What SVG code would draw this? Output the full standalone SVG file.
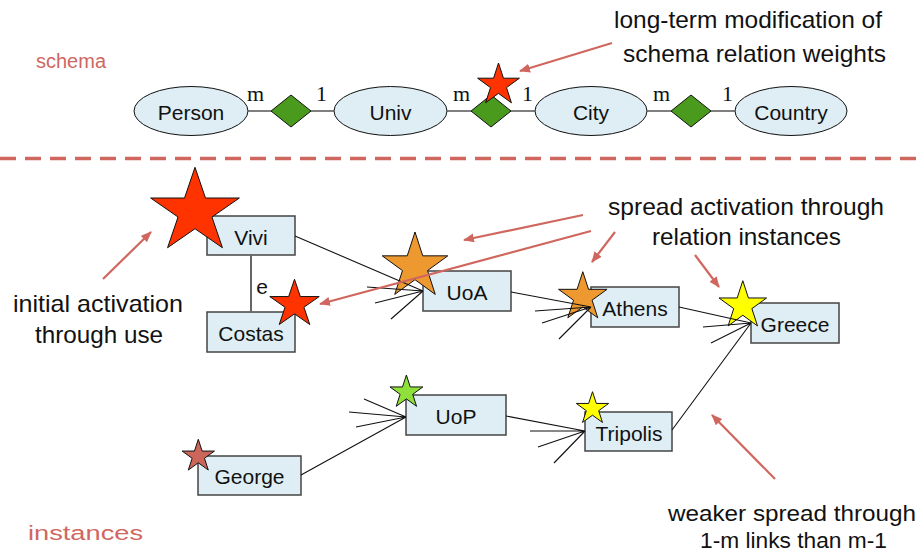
<svg xmlns="http://www.w3.org/2000/svg" width="922" height="553" viewBox="0 0 922 553">
  <style>
    .ent { fill: #deeef4; stroke: #111; stroke-width: 1; }
    .rel { fill: #4a9a1e; stroke: #111; stroke-width: 1; }
    .box { fill: #deeef4; stroke: #444; stroke-width: 1.5; }
    .lbl { font-family: "Liberation Sans", Arial, sans-serif; font-size: 21px; fill: #111; text-anchor: middle; }
    .card { font-family: "Liberation Serif", "Times New Roman", serif; font-size: 22px; fill: #111; }
    .note { font-family: "Liberation Sans", Arial, sans-serif; font-size: 24px; fill: #111; }
    .small { font-size: 22px; }
    .sec { font-family: "Liberation Sans", Arial, sans-serif; font-size: 20px; fill: #d0675f; }
    .star { stroke: #111; stroke-width: 1; }
    .link { stroke: #555; stroke-width: 1.5; fill: none; }
    .edge { stroke: #111; stroke-width: 1.1; fill: none; }
    .ann { stroke: #d0675f; stroke-width: 2.2; fill: none; marker-end: url(#ah); }
  </style>
  <defs>
    <marker id="ah" markerUnits="userSpaceOnUse" markerWidth="12" markerHeight="10" refX="10" refY="4.5" orient="auto">
      <path d="M0,0 L11,4.5 L0,9 z" fill="#d0675f"/>
    </marker>
  </defs>

  <rect width="922" height="553" fill="#fff"/>

  <!-- section labels and divider -->
  <text class="sec" x="36" y="68">schema</text>
  <text class="sec" x="28" y="540" font-size="23" textLength="115" lengthAdjust="spacingAndGlyphs">instances</text>
  <line x1="0" y1="158.5" x2="922" y2="158.5" stroke="#d0675f" stroke-width="3.5" stroke-dasharray="16 9"/>

  <!-- schema level -->
  <g id="person"><ellipse class="ent" cx="191" cy="111" rx="57" ry="24.5"/><text class="lbl" x="191" y="120">Person</text></g>
  <g id="univ"><ellipse class="ent" cx="390.5" cy="111" rx="56.5" ry="24.5"/><text class="lbl" x="390.5" y="120">Univ</text></g>
  <g id="city"><ellipse class="ent" cx="591" cy="111" rx="56" ry="24.5"/><text class="lbl" x="591" y="120">City</text></g>
  <g id="country"><ellipse class="ent" cx="791" cy="111" rx="56" ry="24.5"/><text class="lbl" x="791" y="120">Country</text></g>
  <g id="studies"><polygon class="rel" points="291,95 311,111 291,127 271,111"/></g>
  <g id="located"><polygon class="rel" points="491,95 511,111 491,127 471,111"/>
    <polygon class="star" fill="#ff3300" points="498.5,63 503.44,78.2 519.42,78.2 506.49,87.6 511.43,102.8 498.5,93.4 485.57,102.8 490.51,87.6 477.58,78.2 493.56,78.2"/></g>
  <g id="in-country"><polygon class="rel" points="691,95 711,111 691,127 671,111"/></g>

  <!-- instance level -->
  <g id="vivi"><rect class="box" x="207" y="216" width="88" height="39"/>
    <polygon class="star" fill="#ff3300" points="195,167.3 205.48,198.01 239.39,198.01 211.96,217 222.43,247.71 195,228.73 167.57,247.71 178.04,217 150.61,198.01 184.52,198.01"/>
    <text class="lbl" x="251" y="245">Vivi</text></g>
  <g id="costas"><rect class="box" x="207" y="312" width="88" height="40"/>
    <polygon class="star" fill="#ff3300" points="294.5,279.3 300.34,296.57 319.23,296.57 303.95,307.25 309.78,324.53 294.5,313.85 279.22,324.53 285.05,307.25 269.77,296.57 288.66,296.57"/>
    <text class="lbl" x="251" y="341">Costas</text></g>
  <g id="uoa"><rect class="box" x="423" y="271" width="88" height="40"/>
    <polygon class="star" fill="#ee992f" points="415,232 422.75,255.84 447.81,255.84 427.53,270.57 435.28,294.41 415,279.68 394.72,294.41 402.47,270.57 382.19,255.84 407.25,255.84"/>
    <text class="lbl" x="467" y="300">UoA</text></g>
  <g id="athens"><rect class="box" x="591" y="287" width="88" height="40"/>
    <polygon class="star" fill="#ee992f" points="582.8,271.7 588.52,289.32 607.05,289.32 592.06,300.21 597.79,317.83 582.8,306.94 567.81,317.83 573.54,300.21 558.55,289.32 577.08,289.32"/>
    <text class="lbl" x="635" y="316">Athens</text></g>
  <g id="greece"><rect class="box" x="751" y="303" width="88" height="40"/>
    <polygon class="star" fill="#ffff00" points="742.8,280.7 748.41,297.97 766.58,297.97 751.88,308.65 757.5,325.93 742.8,315.25 728.1,325.93 733.72,308.65 719.02,297.97 737.19,297.97"/>
    <text class="lbl" x="795" y="332">Greece</text></g>
  <g id="uop"><rect class="box" x="406" y="395" width="100" height="40"/>
    <polygon class="star" fill="#8fe03a" points="406.4,375 410.28,386.95 422.85,386.95 412.69,394.34 416.57,406.3 406.4,398.91 396.23,406.3 400.11,394.34 389.95,386.95 402.52,386.95"/>
    <text class="lbl" x="456" y="424">UoP</text></g>
  <g id="tripolis"><rect class="box" x="585" y="412" width="87" height="39"/>
    <polygon class="star" fill="#ffff00" points="592.5,391.7 596.32,403.45 608.67,403.45 598.68,410.71 602.49,422.45 592.5,415.19 582.51,422.45 586.32,410.71 576.33,403.45 588.68,403.45"/>
    <text class="lbl" x="629" y="441">Tripolis</text></g>
  <g id="george"><rect class="box" x="198" y="456" width="103" height="39"/>
    <polygon class="star" fill="#cc665a" points="198.3,439.3 202.12,451.05 214.47,451.05 204.48,458.31 208.29,470.05 198.3,462.79 188.31,470.05 192.12,458.31 182.13,451.05 194.48,451.05"/>
    <text class="lbl" x="249.5" y="484">George</text></g>

  <!-- connectors -->
  <g id="connectors">
    <!-- schema relationship lines -->
    <line class="link" x1="248" y1="111" x2="271" y2="111"/>
    <line class="link" x1="311" y1="111" x2="334" y2="111"/>
    <line class="link" x1="447" y1="111" x2="471" y2="111"/>
    <line class="link" x1="511" y1="111" x2="535" y2="111"/>
    <line class="link" x1="647" y1="111" x2="671" y2="111"/>
    <line class="link" x1="711" y1="111" x2="735" y2="111"/>
    <text class="card" x="247" y="101">m</text>
    <text class="card" x="316" y="101">1</text>
    <text class="card" x="453" y="101">m</text>
    <text class="card" x="522" y="101">1</text>
    <text class="card" x="653" y="101">m</text>
    <text class="card" x="722" y="101">1</text>

    <!-- Vivi - Costas equivalence -->
    <line x1="251" y1="255" x2="251" y2="312" stroke="#666" stroke-width="2"/>
    <text class="lbl" x="262" y="294">e</text>

    <!-- instance links, each target with its fan of incoming links -->
    <path class="edge" d="M295,236 L423,291 M367,287 L423,291 M375,303 L423,291 M391,319 L423,291"/>
    <path class="edge" d="M511,292 L591,307 M535,311 L591,307 M542,323 L591,307 M559,339 L591,307"/>
    <path class="edge" d="M679,307 L751,323 M703,327 L751,323 M711,343 L751,323 M672,430 L751,323"/>
    <path class="edge" d="M301,475 L406,417 M364,399 L406,417 M349,412 L406,417 M356,427 L406,417"/>
    <path class="edge" d="M506,416 L585,431 M530,431 L585,431 M538,447 L585,431 M554,463 L585,431"/>
  </g>

  <!-- annotations -->
  <g id="notes">
    <text class="note" x="614" y="28" textLength="268" lengthAdjust="spacingAndGlyphs">long-term modification of</text>
    <text class="note" x="623" y="62" textLength="263" lengthAdjust="spacingAndGlyphs">schema relation weights</text>
    <text class="note" x="608" y="215" textLength="276" lengthAdjust="spacingAndGlyphs">spread activation through</text>
    <text class="note" x="652" y="245" textLength="189" lengthAdjust="spacingAndGlyphs">relation instances</text>
    <text class="note" x="13" y="312" textLength="170" lengthAdjust="spacingAndGlyphs">initial activation</text>
    <text class="note" x="35" y="343" textLength="128" lengthAdjust="spacingAndGlyphs">through use</text>
    <text class="note small" x="668" y="521" textLength="248" lengthAdjust="spacingAndGlyphs">weaker spread through</text>
    <text class="note small" x="700" y="548" textLength="187" lengthAdjust="spacingAndGlyphs">1-m links than m-1</text>
    <line class="ann" x1="612" y1="43" x2="520" y2="71"/>
    <line class="ann" x1="103" y1="279" x2="151" y2="232"/>
    <line class="ann" x1="583" y1="215" x2="464" y2="240"/>
    <line class="ann" x1="591" y1="231" x2="320" y2="304"/>
    <line class="ann" x1="615" y1="232" x2="592" y2="262"/>
    <line class="ann" x1="695" y1="255" x2="719" y2="287"/>
    <line class="ann" x1="775" y1="479" x2="712" y2="415"/>
  </g>
</svg>
